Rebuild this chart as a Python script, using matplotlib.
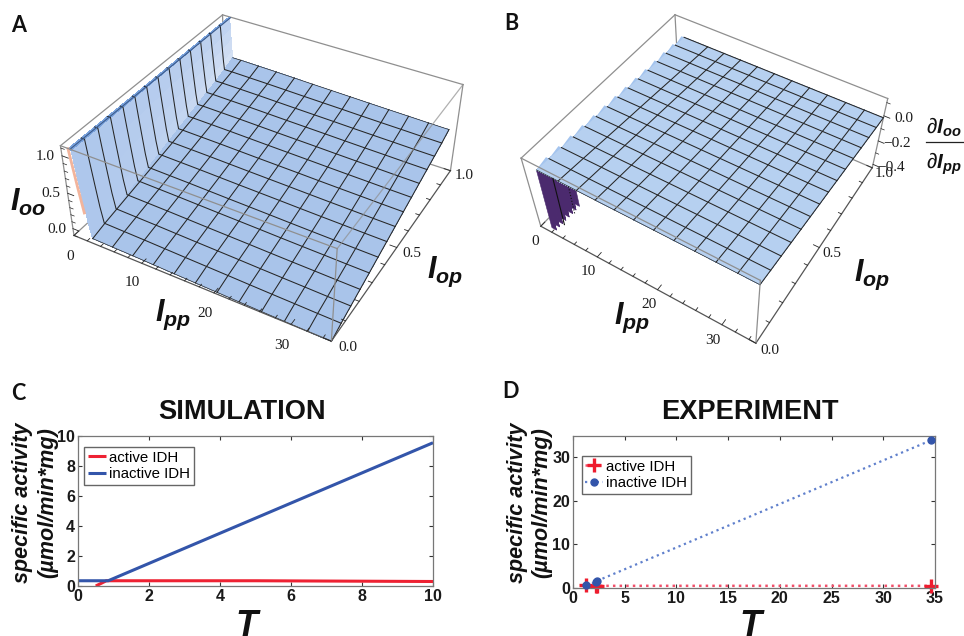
import numpy as np
import matplotlib
matplotlib.use('Agg')
import matplotlib.pyplot as plt
from matplotlib.lines import Line2D
from mpl_toolkits.mplot3d import proj3d
from mpl_toolkits.mplot3d.art3d import Poly3DCollection

plt.rcParams['font.family'] = ['Liberation Sans', 'DejaVu Sans']
plt.rcParams['mathtext.fontset'] = 'custom'
plt.rcParams['mathtext.rm'] = 'Liberation Sans'
plt.rcParams['mathtext.it'] = 'Liberation Sans:italic'
plt.rcParams['mathtext.bf'] = 'Liberation Sans:bold'
plt.rcParams['mathtext.bfit'] = 'Liberation Sans:italic:bold'

# mesh lines of the two surfaces
ipp_mesh = [2.92, 5.83, 8.75, 11.67, 14.58, 17.5, 20.42, 23.33, 26.25, 29.17, 32.08, 35.0]
iop_mesh = [0.0, 0.071, 0.143, 0.214, 0.286, 0.357, 0.429, 0.5, 0.571, 0.643, 0.714, 0.786, 0.857, 0.929, 1.0]

# panel A surface
floor_a = [-0.03, 0.02, 0.06, 0.10, 0.14, 0.18, 0.22, 0.26, 0.30, 0.34, 0.38, 0.42, 0.46, 0.50, 0.55]
drop_a = [0.0, -0.006, -0.012, -0.02, -0.028, -0.035, -0.042, -0.05, -0.057, -0.063, -0.07, -0.075]
bend_a = [2.9, 2.85, 2.8, 2.7, 2.6, 2.5, 2.4, 2.3, 2.2, 2.1, 2.0, 1.9, 1.8, 1.65, 1.5]
end_a = [1.0, 0.998, 0.996, 0.994, 0.992, 0.99, 0.988, 0.986, 0.984, 0.982, 0.98, 0.978, 0.976, 0.974, 0.972]
wall_frac = [1.0, 1.0, 0.74, 0.48, 0.2, 0.0]
wall_step = [0.0, 0.25, 0.42, 0.6, 0.8, 1.0]
wall_start = 1.0
wall_top = 1.12

# panel B surface
level_b = [0.095, 0.087, 0.079, 0.071, 0.063, 0.055, 0.047, 0.04, 0.032, 0.024, 0.016, 0.008, 0.0, -0.008, -0.015]
start_b = [2.3, 2.25, 2.2, 2.15, 2.1, 2.05, 2.0, 1.95, 1.9, 1.85, 1.8, 1.7, 1.6, 1.55, 1.5]
stair_edges = [2.3, 3.1, 3.9, 4.7, 5.5, 6.3, 7.1, 7.9, 8.7]
stair_z = [-0.38, -0.33, -0.28, -0.23, -0.18, -0.13, -0.08, -0.03]

# panels C and D
sim_active_t = [0.5, 0.8, 5.0, 10.0]
sim_active = [0.0, 0.35, 0.35, 0.3]
sim_inactive_t = [0.0, 0.85, 10.0]
sim_inactive = [0.35, 0.35, 9.55]
exp_t = [1.3, 2.2, 2.3, 34.6]
exp_active = [0.6, 0.5, 0.5, 0.5]
exp_inactive = [0.6, 1.3, 1.6, 33.8]

W, H = 964, 636
BLUE = '#a9c4ea'
BOX = '#8f8f8f'
DARK = '#262626'

fig = plt.figure(figsize=(W / 100, H / 100), dpi=100)


def place(px, py, s, **kw):
    fig.text(px / W, 1 - py / H, s, ha='center', va='center', **kw)


def add_3d(left, top, size):
    ax = fig.add_axes([left / W, 1 - (top + size) / H, size / W, size / H],
                      projection='3d', computed_zorder=False)
    ax.set_axis_off()
    return ax


def use_pixel_corners(ax, pts3d, pts2d):
    # camera matrix taken from where the box corners sit in the figure
    ax.apply_aspect()
    shown = ax.transData.inverted().transform([(x, H - y) for x, y in pts2d])
    scale = np.abs(shown).max()
    rows = []
    for (x, y, z), (u, v) in zip(pts3d, shown / scale):
        p = [x / 35, y, z, 1]
        rows.append(p + [0, 0, 0, 0] + [-u * c for c in p])
        rows.append([0, 0, 0, 0] + p + [-v * c for c in p])
    P = np.linalg.svd(np.array(rows))[2][-1].reshape(3, 4)
    if P[2] @ [0.5, 0.5, 0.5, 1] < 0:
        P = -P
    P = P @ np.diag([1 / 35, 1, 1, 1])
    P[:2] *= scale
    M = np.array([P[0], P[1], [0, 0, 0, -1], P[2]])
    ax.get_proj = lambda: M


def box_line(ax, a, b, color=BOX, lw=0.9, zorder=1, alpha=1, ls='-'):
    ax.plot([a[0], b[0]], [a[1], b[1]], [a[2], b[2]], color=color, lw=lw, zorder=zorder, alpha=alpha, ls=ls)


def back_box(ax, lo, hi):
    box_line(ax, (0, 0, lo), (0, 1, lo))
    box_line(ax, (0, 1, lo), (35, 1, lo))
    box_line(ax, (0, 1, lo), (0, 1, hi))
    box_line(ax, (0, 0, hi), (0, 1, hi))
    box_line(ax, (0, 1, hi), (35, 1, hi))
    box_line(ax, (35, 1, lo), (35, 1, hi))
    box_line(ax, (0, 0, lo), (0, 0, hi))


def ticks(ax, lo, zmajor, zminor, zside):
    for v in np.arange(0, 35, 2):
        d = 0.025 if v % 10 == 0 else 0.014
        box_line(ax, (v, 0, lo), (v, d, lo), DARK, 0.6, 5)
    for v in np.arange(0, 1.01, 0.1):
        d = 0.9 if round(v * 10) % 5 == 0 else 0.5
        box_line(ax, (35, v, lo), (35 - d, v, lo), DARK, 0.6, 5)
    for v in zminor:
        box_line(ax, (zside[0], zside[1], v), (zside[0] + 0.5, zside[1], v), DARK, 0.5, 5)
    for v in zmajor:
        box_line(ax, (zside[0], zside[1], v), (zside[0] + 0.9, zside[1], v), DARK, 0.6, 5)


def tick_labels(ax, items):
    # placed after the camera is known, at the projected spot
    M = ax.get_proj()
    for x, y, z, s in items:
        u, v, _ = proj3d.proj_transform(x, y, z, M)
        ax.text2D(u, v, s, transform=ax.transData, family='Liberation Serif', fontsize=11, color='#1c1c1c',
                  ha='center', va='center')


# ---------- A ----------
ax = add_3d(0, 0, 480)
lo, hi = -0.1, 1.13
back_box(ax, lo, hi)

iop = np.array(iop_mesh)
floor = np.array(floor_a)
bend = np.array(bend_a)
# wall down from the top ribbon to the bend of each line
wX = wall_start + np.outer(bend - wall_start, wall_step)
wY = np.tile(iop[:, None], (1, len(wall_step)))
wZ = floor[:, None] + np.array(wall_frac)[None, :] * (wall_top - floor[:, None])
wall_col = np.zeros(wZ.shape + (4,))
light = np.array(matplotlib.colors.to_rgba('#dfe8f6'))
base = np.array(matplotlib.colors.to_rgba('#aec7ec'))
for i in range(wZ.shape[0]):
    for j in range(wZ.shape[1]):
        mix = (iop[i] ** 1.1) * (0.25 + 0.75 * j / 5.0)
        wall_col[i, j] = base + (light - base) * mix
wall_col[:, 0] = matplotlib.colors.to_rgba('#7ba3dc')
ax.plot_surface(wX, wY, wZ, facecolors=wall_col, shade=False, rstride=1, cstride=1,
                linewidth=0, antialiased=False, zorder=2)
# gently sloping part
nodes = np.array(ipp_mesh)
fX = np.column_stack([bend, np.maximum(bend, nodes[0]) * np.array(end_a)] +
                     [nodes[k] * np.array(end_a) for k in range(1, len(nodes))])
fY = np.tile(iop[:, None], (1, fX.shape[1]))
fZ = np.column_stack([floor, floor + drop_a[0]] + [floor + drop_a[k] for k in range(1, len(nodes))])
ax.plot_surface(fX, fY, fZ, color=BLUE, shade=False, rstride=1, cstride=1,
                linewidth=0, antialiased=False, zorder=2)
for k in range(1, len(iop_mesh) - 1):
    ax.plot(list(wX[k]) + list(fX[k][1:]), [iop_mesh[k]] * (wX.shape[1] + fX.shape[1] - 1),
            list(wZ[k]) + list(fZ[k][1:]), color=DARK, lw=0.75, zorder=3)
ax.plot(fX[0], fY[0], fZ[0], color=DARK, lw=0.5, zorder=3)
ax.plot(fX[-1], fY[-1], fZ[-1], color=DARK, lw=0.5, zorder=3)
for k in range(1, fX.shape[1]):
    ax.plot(fX[:, k], fY[:, k], fZ[:, k], color=DARK, lw=0.75, zorder=3)
box_line(ax, (wall_start + 0.25, 0, wall_top), (wall_start + 0.25, 1, wall_top), '#3a5a8c', 0.8, 3)
ax.plot([wall_start, wall_start + 0.6, wall_start + 1.1], [0.002, 0.002, 0.002], [wall_top, 0.65, 0.3],
        color='#f2b49c', lw=2.0, zorder=3)
box_line(ax, (0, 0, lo), (35, 0, lo), '#555555', 0.9, 4)
box_line(ax, (35, 0, lo), (35, 1, lo), '#555555', 0.9, 4)
box_line(ax, (35, 0, lo), (35, 0, hi), BOX, 0.9, 4)
box_line(ax, (0, 0, hi), (35, 0, hi), BOX, 0.9, 4)
box_line(ax, (35, 0, hi), (35, 1, hi), BOX, 0.9, 4, 0.7)
ticks(ax, lo, [0.0, 0.5, 1.0], [-0.1, 0.1, 0.2, 0.3, 0.4, 0.6, 0.7, 0.8, 0.9, 1.1], (0, 0))
labels_a = [(v + (0.9 if v == 0 else 0), -0.06, lo - 0.13, str(v)) for v in [0, 10, 20, 30]]
labels_a += [(37.0, v, lo, '%.1f' % v) for v in [0.0, 0.5, 1.0]]
labels_a += [(-1.6, -0.03, v, '%.1f' % v) for v in [0.0, 0.5, 1.0]]
ax_a = ax

# ---------- B ----------
ax = add_3d(484, 0, 480)
lo, hi = -0.43, 0.13
back_box(ax, lo, hi)
box_line(ax, (0, 0, lo), (35, 0, lo), '#555555', 0.9, 1)

level = np.array(level_b)
bX = np.column_stack([start_b] + [np.full(len(iop_mesh), v) for v in ipp_mesh[1:]])
bY = np.tile(iop[:, None], (1, bX.shape[1]))
bZ = np.tile(level[:, None], (1, bX.shape[1]))
# near edge of the sheet hangs down in steps at small Ipp
sX = np.repeat(stair_edges, 2)[1:-1]
sZ = np.repeat(stair_z, 2)
stair = np.array([sX, sX])
ax.plot_surface(stair, np.zeros_like(stair), np.array([np.full(len(sX), level[0]), sZ]), color='#4b2a6e', shade=False,
                edgecolor='#4b2a6e', rstride=1, cstride=1, linewidth=0.4, zorder=2)
ax.plot_surface(bX, bY, bZ, color='#b6d0f0', shade=False, rstride=1, cstride=1,
                linewidth=0, antialiased=False, zorder=3)
teeth = [[(start_b[k], iop_mesh[k], level[k]), (start_b[k + 1], iop_mesh[k + 1], level[k + 1]),
          (start_b[k + 1] - 0.5, iop_mesh[k + 1], level[k + 1])] for k in range(len(iop_mesh) - 1)]
ax.add_collection3d(Poly3DCollection(teeth, facecolor='#a4c4ee', edgecolor='none', zorder=3))
for k in range(len(iop_mesh)):
    ax.plot(bX[k], bY[k], bZ[k], color=DARK, lw=0.75 if k else 0.5, zorder=4)
for k in range(1, bX.shape[1]):
    ax.plot(bX[:, k], bY[:, k], bZ[:, k], color=DARK, lw=0.75, zorder=4)
box_line(ax, (5.0, 0, level[0]), (5.0, 0, -0.28), '#111111', 0.8, 4)
box_line(ax, (7.5, 0, level[0]), (7.5, 0, -0.12), '#111111', 0.8, 4, ls=':')
box_line(ax, (35, 0, lo), (35, 1, lo), '#555555', 0.9, 5)
box_line(ax, (35, 0, lo), (35, 0, hi), BOX, 0.9, 5)
box_line(ax, (0, 0, hi), (35, 0, hi), BOX, 0.9, 5)
ticks(ax, lo, [0.0, -0.2, -0.4], [0.1, -0.1, -0.3], (35, 1))
labels_b = [(v + (0.6 if v == 0 else 0), -0.06, lo - 0.035, str(v)) for v in [0, 10, 20, 30]]
labels_b += [(37.0, v, lo, '%.1f' % v) for v in [0.0, 0.5, 1.0]]
labels_b += [(37.8, 1.0, v + 0.04, ('%.1f' % v).replace('-', '\u2212')) for v in [0.0, -0.2, -0.4]]
ax_b = ax

# labels of the 3D panels
lab = dict(fontsize=22, color='#111111')
place(173, 315, r'$\mathbfit{I}_{\mathbfit{pp}}$', **lab)
place(445, 272, r'$\mathbfit{I}_{\mathbfit{op}}$', **lab)
place(28, 202, r'$\mathbfit{I}_{\mathbfit{oo}}$', **lab)
place(632, 318, r'$\mathbfit{I}_{\mathbfit{pp}}$', **lab)
place(872, 275, r'$\mathbfit{I}_{\mathbfit{op}}$', **lab)
place(944, 127, r'$\partial\mathbfit{I}_{\mathbfit{oo}}$', fontsize=15, color='#111111')
place(944, 164, r'$\partial\mathbfit{I}_{\mathbfit{pp}}$', fontsize=15, color='#111111')
fig.add_artist(Line2D([926 / W, 963 / W], [1 - 142 / H, 1 - 142 / H], color='#222222', lw=0.9))

letter = dict(family='Lato', fontsize=15.5, fontweight='bold', color='#111111')
place(19, 25, 'A', **letter)
place(511, 24, 'B', **letter)
place(18, 394, 'C', **letter)
place(511, 392, 'D', **letter)


# ---------- C and D ----------
def flat_axes(left, right, top, bottom):
    a = fig.add_axes([left / W, 1 - bottom / H, (right - left) / W, (bottom - top) / H])
    a.tick_params(direction='in', top=True, right=True, length=3, width=0.8, pad=2, color='#333333')
    for s in a.spines.values():
        s.set_color('#777777')
        s.set_linewidth(0.9)
    return a


def finish(a, title, tx, ylx):
    for lb in a.get_xticklabels() + a.get_yticklabels():
        lb.set_fontweight('bold')
        lb.set_fontsize(11.5)
        lb.set_color('#1a1a1a')
    place(tx, 412, title, fontsize=19.6, fontweight='bold', color='#111111')
    place(ylx, 503, 'specific activity', rotation=90, fontsize=15.5, fontweight='bold', style='italic', color='#111111')
    place(ylx + 25, 503, '(\u00b5mol/min*mg)', rotation=90, fontsize=15.6, fontweight='bold', style='italic',
          color='#111111')


leg_kw = dict(loc='upper left', fontsize=10.8, fancybox=False, edgecolor='#666666', framealpha=1, handlelength=1.2,
              handletextpad=0.2, borderpad=0.25, labelspacing=0.15, borderaxespad=0)

c = flat_axes(78, 433, 436, 586)
c.plot(sim_active_t, sim_active, color='#ee2233', lw=2.2, label='active IDH', solid_capstyle='butt')
c.plot(sim_inactive_t, sim_inactive, color='#3355aa', lw=2.2, label='inactive IDH', solid_capstyle='butt')
c.set_xlim(0, 10)
c.set_ylim(0, 10)
c.set_xticks([0, 2, 4, 6, 8, 10])
c.set_yticks([0, 2, 4, 6, 8, 10])
finish(c, 'SIMULATION', 242, 23)
place(247, 626, 'T', fontsize=26, fontweight='bold', style='italic', color='#111111')
c.legend(bbox_to_anchor=(0.017, 0.927), **leg_kw)

d = flat_axes(573, 935, 436, 588)
d.plot(exp_t, exp_active, color='#f0506a', ls=':', lw=1.8, marker='+', ms=10, mew=2.4, mec='#ee1c2e',
       label='active IDH', zorder=2, clip_on=False)
d.plot(exp_t, exp_inactive, color='#6080cc', ls=':', lw=1.6, marker='o', ms=5, mec='#3355aa', mfc='#3355aa',
       label='inactive IDH', zorder=3, clip_on=False)
d.set_xlim(0, 35)
d.set_ylim(0, 34.8)
d.set_xticks([0, 5, 10, 15, 20, 25, 30, 35])
d.set_yticks([0, 10, 20, 30])
finish(d, 'EXPERIMENT', 750, 517)
place(751, 626, 'T', fontsize=26, fontweight='bold', style='italic', color='#111111')
d.legend(bbox_to_anchor=(0.024, 0.87), **leg_kw)

# box corners as they sit in the reference, pixels from the top left
use_pixel_corners(ax_a,
                  [(0, 0, -0.1), (35, 0, -0.1), (35, 1, -0.1), (0, 0, 1.13), (0, 1, 1.13), (35, 1, 1.13), (35, 0, 1.13)],
                  [(73, 235), (333, 340), (450, 172), (61, 146), (223, 15), (463, 83), (336, 250)])
use_pixel_corners(ax_b,
                  [(0, 0, -0.43), (35, 0, -0.43), (35, 1, -0.43), (0, 0, 0.13), (0, 1, 0.13), (35, 1, 0.13), (35, 0, 0.13)],
                  [(540, 227), (757, 342), (872, 168), (522, 157), (675, 15), (888, 98), (759, 282)])
tick_labels(ax_a, labels_a)
tick_labels(ax_b, labels_b)

fig.savefig('out.png', dpi=100)
